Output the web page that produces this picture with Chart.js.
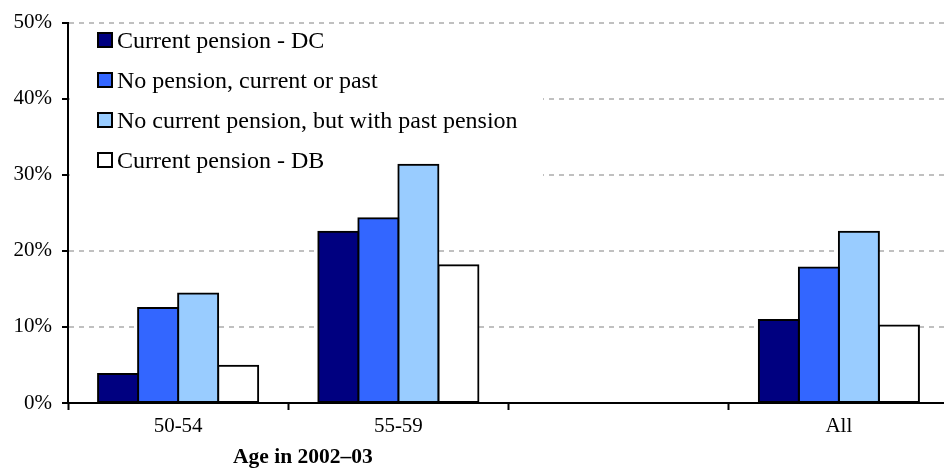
<!DOCTYPE html>
<html>
<head>
<meta charset="utf-8">
<style>
    html, body { margin: 0; padding: 0; background: #fff; overflow: hidden; }
    #chartContainer { width: 950px; height: 468px; }
</style>
</head>
<body>
<div id="chartContainer">
    <canvas id="myChart"></canvas>
</div>

<script src="https://cdn.jsdelivr.net/npm/chart.js@4.4.0/dist/chart.umd.min.js"></script>
<script>
    // data
    var categories = ['50-54', '55-59', '', 'All'];
    var seriesNames = ['Current pension - DC', 'No pension, current or past',
        'No current pension, but with past pension', 'Current pension - DB'];
    var currentDC = [3.8, 22.5, null, 10.9];
    var noPension = [12.5, 24.3, null, 17.8];
    var pastPension = [14.4, 31.3, null, 22.5];
    var currentDB = [4.9, 18.1, null, 10.2];
    var yTicks = [0, 10, 20, 30, 40, 50];
    var xTitle = 'Age in 2002\u201303';

    var colors = ['#000080', '#3366ff', '#99ccff', '#ffffff'];
    var serif = '"Liberation Serif", "Times New Roman", serif';

    // legend sits inside the plot, over the grid lines
    var innerLegend = {
        id: 'innerLegend',
        beforeDatasetsDraw: function (chart) {
            var c = chart.ctx;
            c.save();
            c.fillStyle = '#fff';
            c.fillRect(chart.chartArea.left + 2, 25, 473, 157);
            c.restore();
        },
        afterDraw: function (chart) {
            var c = chart.ctx;
            c.save();
            c.font = '24px ' + serif;
            c.textBaseline = 'middle';
            chart.data.datasets.forEach(function (ds, i) {
                var y = 41 + i * 40;
                c.fillStyle = ds.backgroundColor;
                c.fillRect(98, y - 8, 14, 14);
                c.lineWidth = 2;
                c.strokeStyle = '#000';
                c.strokeRect(98, y - 8, 14, 14);
                c.fillStyle = '#000';
                c.fillText(ds.label, 117, y + 1);
            });
            // axis title
            c.font = 'bold 21.5px ' + serif;
            c.textAlign = 'left';
            c.fillText(xTitle, 233, 457);
            c.restore();
        }
    };

    var values = [currentDC, noPension, pastPension, currentDB];
    var ctx = document.getElementById('myChart').getContext('2d');
    var myChart = new Chart(ctx, {
        type: 'bar',
        data: {
            labels: categories,
            datasets: values.map(function (v, i) {
                return {
                    label: seriesNames[i],
                    data: v,
                    backgroundColor: colors[i],
                    borderColor: '#000',
                    borderWidth: 2,
                    borderSkipped: false,
                    inflateAmount: 1,
                    categoryPercentage: 0.727,
                    barPercentage: 1
                };
            })
        },
        options: {
            responsive: true,
            maintainAspectRatio: false,
            animation: false,
            layout: { autoPadding: false, padding: { top: 19, right: 1, left: 0, bottom: 0 } },
            plugins: {
                legend: { display: false },
                tooltip: { enabled: false }
            },
            scales: {
                x: {
                    grid: {
                        offset: true,
                        drawOnChartArea: false,
                        tickLength: 7,
                        tickColor: '#000',
                        tickWidth: 2
                    },
                    border: { color: '#000', width: 2 },
                    ticks: {
                        color: '#000',
                        padding: 4,
                        font: { family: serif, size: 21 }
                    },
                    afterFit: function (scale) { scale.height = 65; }
                },
                y: {
                    min: 0,
                    max: 50,
                    afterBuildTicks: function (scale) {
                        scale.ticks = yTicks.map(function (v) { return { value: v }; });
                    },
                    grid: {
                        color: function (c) { return c.tick && c.tick.value === 0 ? 'rgba(0,0,0,0)' : '#c0c0c0'; },
                        lineWidth: 2,
                        tickLength: 6,
                        tickColor: '#000',
                        tickWidth: 2,
                        tickBorderDash: []
                    },
                    border: { color: '#000', width: 2, dash: [5, 5] },
                    ticks: {
                        color: '#000',
                        padding: 10,
                        font: { family: serif, size: 21 },
                        callback: function (v) { return v + '%'; }
                    },
                    afterFit: function (scale) { scale.width = 68; }
                }
            }
        },
        plugins: [innerLegend]
    });
</script>
</body>
</html>
